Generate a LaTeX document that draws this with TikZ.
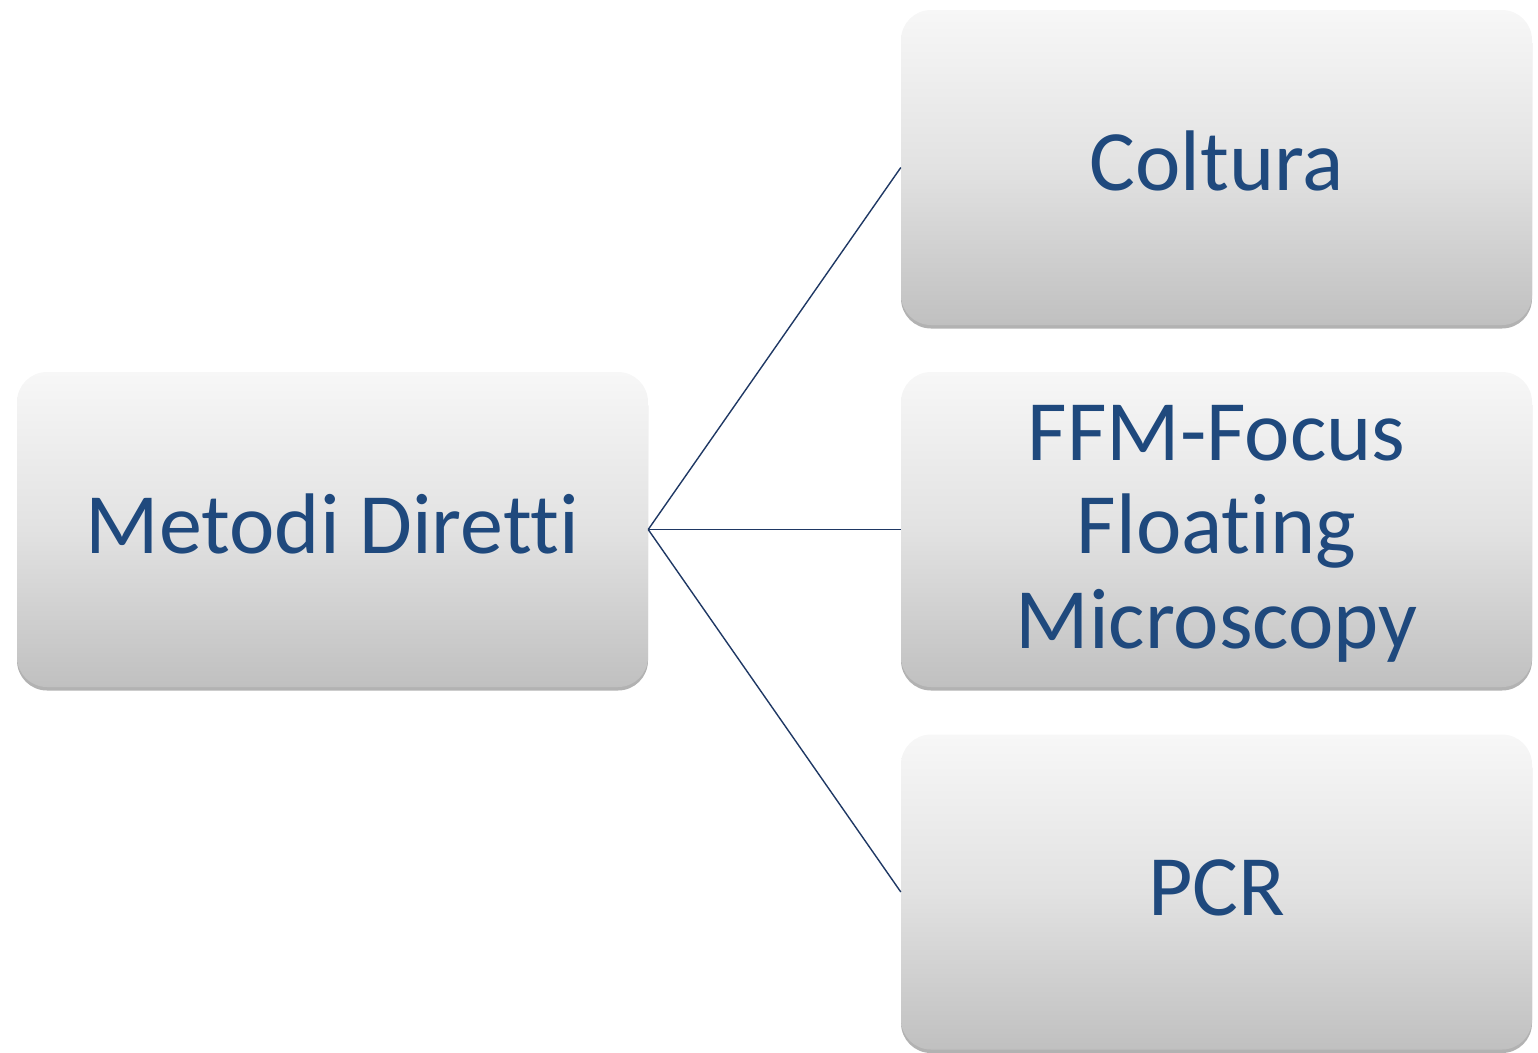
\documentclass[tikz,border=0pt]{standalone}
\usepackage{fontspec}
\setmainfont[Ligatures=NoCommon]{Carlito}
\usetikzlibrary{shadows}
\definecolor{txtblue}{HTML}{1F497D}
\definecolor{lineblue}{HTML}{1F3864}
\definecolor{gtop}{HTML}{F7F7F7}
\definecolor{gmid}{HTML}{E2E2E2}
\definecolor{gbot}{HTML}{C0C0C0}
\tikzset{
  box/.style={rectangle, rounded corners=30pt, minimum width=631pt, minimum height=315pt,
    inner sep=0pt, top color=gtop, bottom color=gbot, middle color=gmid, draw=none,
    drop shadow={shadow xshift=0pt, shadow yshift=-3.5pt, opacity=0.3, fill=black}},
  lbl/.style={anchor=base, inner sep=0pt, text=txtblue, font=\fontsize{86}{94}\selectfont},
  conn/.style={draw=lineblue, line width=1.4pt}
}
\begin{document}
\begin{tikzpicture}[x=1pt,y=-1pt]
\useasboundingbox (0,0) rectangle (1538,1052);
\node[box] (m) at (332.5,529.5) {};
\node[box] (c) at (1216.5,167.5) {};
\node[box] (f) at (1216.5,529.5) {};
\node[box] (p) at (1216.5,892) {};
\node[lbl] (tm) at ([yshift=-23.5pt]m.center) {Metodi Diretti};
\node[lbl] (tc) at ([yshift=-22.5pt]c.center) {Coltura};
\node[lbl] (tf1) at ([yshift=69.5pt]f.center) {FFM-Focus};
\node[lbl] (tf2) at ([yshift=-23.5pt]f.center) {Floating};
\node[lbl] (tf3) at ([yshift=-118.5pt]f.center) {Microscopy};
\node[lbl] (tp) at ([yshift=-23pt]p.center) {PCR};
\draw[conn] (m.east) -- (c.west);
\draw[conn] (m.east) -- (f.west);
\draw[conn] (m.east) -- (p.west);
\end{tikzpicture}
\end{document}
